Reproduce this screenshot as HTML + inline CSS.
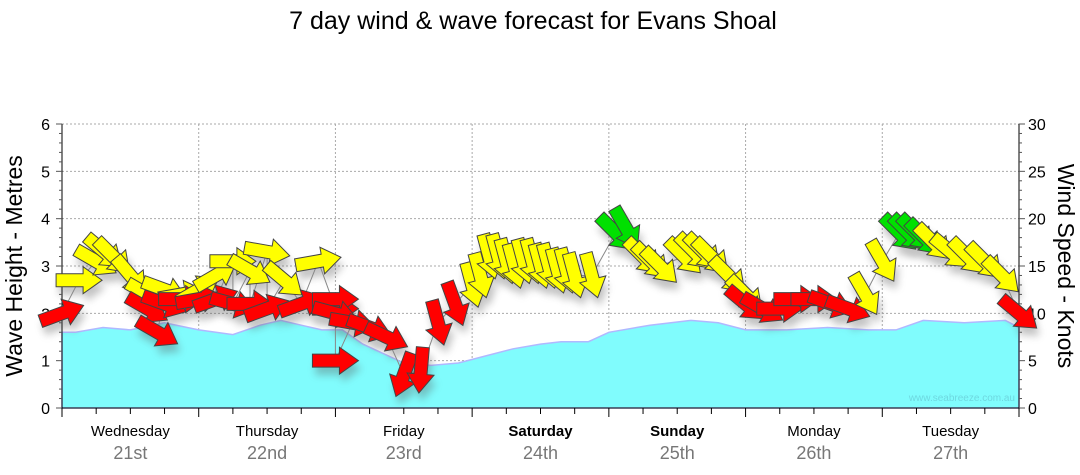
<!DOCTYPE html>
<html><head><meta charset="utf-8"><style>
body{margin:0;background:#fff;width:1080px;height:475px;overflow:hidden;font-family:"Liberation Sans",sans-serif}
svg{display:block}
</style></head><body>
<svg id="chart" width="1080" height="475" viewBox="0 0 1080 475" xmlns="http://www.w3.org/2000/svg">
<defs><filter id="sh" x="-50%" y="-50%" width="200%" height="200%"><feGaussianBlur stdDeviation="4"/></filter></defs>
<text x="533" y="29" text-anchor="middle" font-size="25" fill="#000">7 day wind &amp; wave forecast for Evans Shoal</text>
<g id="grid"></g>
<path id="wave" fill="#80fcfd" stroke="#b0b8ff" stroke-width="1.5"/>
<text x="1015" y="401" text-anchor="end" font-size="10" fill="#6ed8e0">www.seabreeze.com.au</text>
<g id="axes"></g>
<g id="shadows" opacity="0.35"></g>
<polyline id="windline" fill="none" stroke="#888" stroke-width="1"/>
<g id="arrows"></g>
<text transform="translate(22,266) rotate(-90)" text-anchor="middle" font-size="23">Wave Height - Metres</text>
<text transform="translate(1058,266) rotate(90)" text-anchor="middle" font-size="23">Wind Speed - Knots</text>
</svg>
<script>
const days=["Wednesday","Thursday","Friday","Saturday","Sunday","Monday","Tuesday"];
const dates=["21st","22nd","23rd","24th","25th","26th","27th"];
const boldDays=[false,false,false,true,true,false,false];
const waveTimes=[0,0.1,0.3,0.5,0.75,1,1.25,1.45,1.6,1.75,1.9,2.05,2.2,2.35,2.5,2.7,2.9,3.1,3.3,3.5,3.65,3.85,4,4.3,4.6,4.8,5,5.3,5.6,5.9,6.1,6.3,6.6,6.9,7];
const waveHeights=[1.6,1.6,1.7,1.65,1.8,1.65,1.55,1.75,1.85,1.75,1.65,1.65,1.35,1.15,0.95,0.9,0.95,1.1,1.25,1.35,1.4,1.4,1.6,1.75,1.85,1.8,1.65,1.65,1.7,1.65,1.65,1.85,1.8,1.85,1.7];
const windTimes=[
0,0.125,0.25,0.31,0.375,0.5,0.625,0.625,0.7,0.75,0.75,0.875,0.875,
1,1,1.125,1.125,1.25,1.25,1.375,1.375,1.5,1.5,1.625,1.75,1.875,
2,2,2,2,2.125,2.25,2.375,2.5,2.625,2.75,2.875,
3,3.06,3.125,3.19,3.25,3.31,3.375,3.44,3.5,3.56,3.625,3.69,3.75,3.875,
4.05,4.125,4.25,4.31,4.375,4.55,4.625,4.69,4.75,4.875,
5,5,5.125,5.25,5.375,5.5,5.625,5.75,5.875,
6,6.125,6.19,6.25,6.31,6.375,6.5,6.625,6.75,6.875,7];
const windSpeeds=[
10,13.5,15.5,16.5,16,14,12,10.5,8,12.5,11,12,11.5,
12.5,11.5,14,11.5,15.5,11,14.5,11,16.5,10.5,13.5,11,15.5,
10.5,11.5,10,5,9,8.5,7.5,3.5,4,9,11,
13,14,16,16,15.5,15,15.5,15.5,15,15,14.5,14.5,14,14,
18.5,19,16,15.5,15,16,16.5,16.5,16,14,
12,11,10.5,10.5,11.5,11.5,11,10.5,12,
15.5,18.5,18.5,18.5,18,17.5,16.5,16,15.5,14,10];
const windDirs=[
-20,0,30,40,45,50,30,30,30,20,20,-10,0,
-30,-10,-30,-20,0,15,30,0,10,-20,40,-20,-10,
0,0,15,0,10,20,25,110,95,75,70,
75,75,75,75,75,75,75,75,75,75,75,75,75,75,
45,60,45,45,45,45,45,45,45,45,
45,40,30,0,0,0,20,20,60,
60,45,45,45,45,45,40,45,45,45,40];
const NS="http://www.w3.org/2000/svg";
const X0=62,X1=1019,Y0=408,Y6=124;
const xs=t=>X0+t*(X1-X0)/7, yW=h=>Y0-h*(Y0-Y6)/6, yK=k=>Y0-k*(Y0-Y6)/30;
function mk(tag,attrs,parent){const e=document.createElementNS(NS,tag);for(const k in attrs)e.setAttribute(k,attrs[k]);parent.appendChild(e);return e;}
const grid=document.getElementById('grid'),axes=document.getElementById('axes');
for(let i=1;i<=6;i++){const g=mk('line',{x1:X0,x2:X1,y1:yW(i),y2:yW(i),stroke:'#aaa','stroke-dasharray':'2,2'},grid);

}
for(let d=1;d<7;d++){const g=mk('line',{x1:xs(d),x2:xs(d),y1:Y6,y2:Y0,stroke:'#aaa','stroke-dasharray':'2,2'},grid);

}
let p='M'+xs(0)+','+Y0;waveTimes.forEach((t,i)=>p+=' L'+xs(t).toFixed(1)+','+yW(waveHeights[i]).toFixed(1));p+=' L'+xs(7)+','+Y0+'Z';
document.getElementById('wave').setAttribute('d',p);
mk('line',{x1:X0,x2:X0,y1:Y6,y2:Y0,stroke:'#000'},axes);mk('line',{x1:X1,x2:X1,y1:Y6,y2:Y0,stroke:'#000'},axes);
mk('line',{x1:X0,x2:X1,y1:Y0,y2:Y0,stroke:'#000'},axes);
for(let i=0;i<=30;i++){const yy=Y0-i*(Y0-Y6)/30;mk('line',{x1:X0-(i%5?3:6),x2:X0,y1:yy,y2:yy,stroke:'#555'},axes);mk('line',{x1:X1,x2:X1+(i%5?3:6),y1:yy,y2:yy,stroke:'#555'},axes);}
for(let i=0;i<=6;i++){const t=mk('text',{x:50,y:yW(i)+6,'text-anchor':'end','font-size':16},axes);t.textContent=i;

}
for(let i=0;i<=30;i+=5){const t=mk('text',{x:1028,y:yK(i)+6,'font-size':16},axes);t.textContent=i;

}
for(let q=0;q<=28;q++){const xx=xs(q/4);mk('line',{x1:xx,x2:xx,y1:Y0,y2:Y0+(q%4?6:9),stroke:'#000'},axes);}
days.forEach((d,i)=>{const cx=xs(i+0.5);
const t=mk('text',{x:cx,y:436,'text-anchor':'middle','font-size':15,'font-weight':boldDays[i]?'bold':'normal'},axes);t.textContent=d;


const t2=mk('text',{x:cx,y:459,'text-anchor':'middle','font-size':18,fill:'#777'},axes);t2.textContent=dates[i];

});
const arr=document.getElementById('arrows'),sh=document.getElementById('shadows');
document.getElementById('windline').setAttribute('points',windTimes.map((t,i)=>xs(t).toFixed(1)+','+yK(windSpeeds[i]).toFixed(1)).join(' '));
const shape='M-23,-6.5 L4,-6.5 L4,-13.5 L23,0 L4,13.5 L4,6.5 L-23,6.5 Z';
windTimes.forEach((t,i)=>{const s=windSpeeds[i];const col=s<11.8?'#ff0000':(s<18?'#ffff00':'#00e000');
const x=xs(t),y=yK(s);
mk('path',{d:shape,fill:'#555',filter:'url(#sh)',transform:`translate(${x+3},${y+8}) rotate(${windDirs[i]})`},sh);
const a=mk('path',{d:shape,fill:col,stroke:'#444','stroke-width':1,transform:`translate(${x},${y}) rotate(${windDirs[i]})`},arr);

});
</script>
</body></html>
